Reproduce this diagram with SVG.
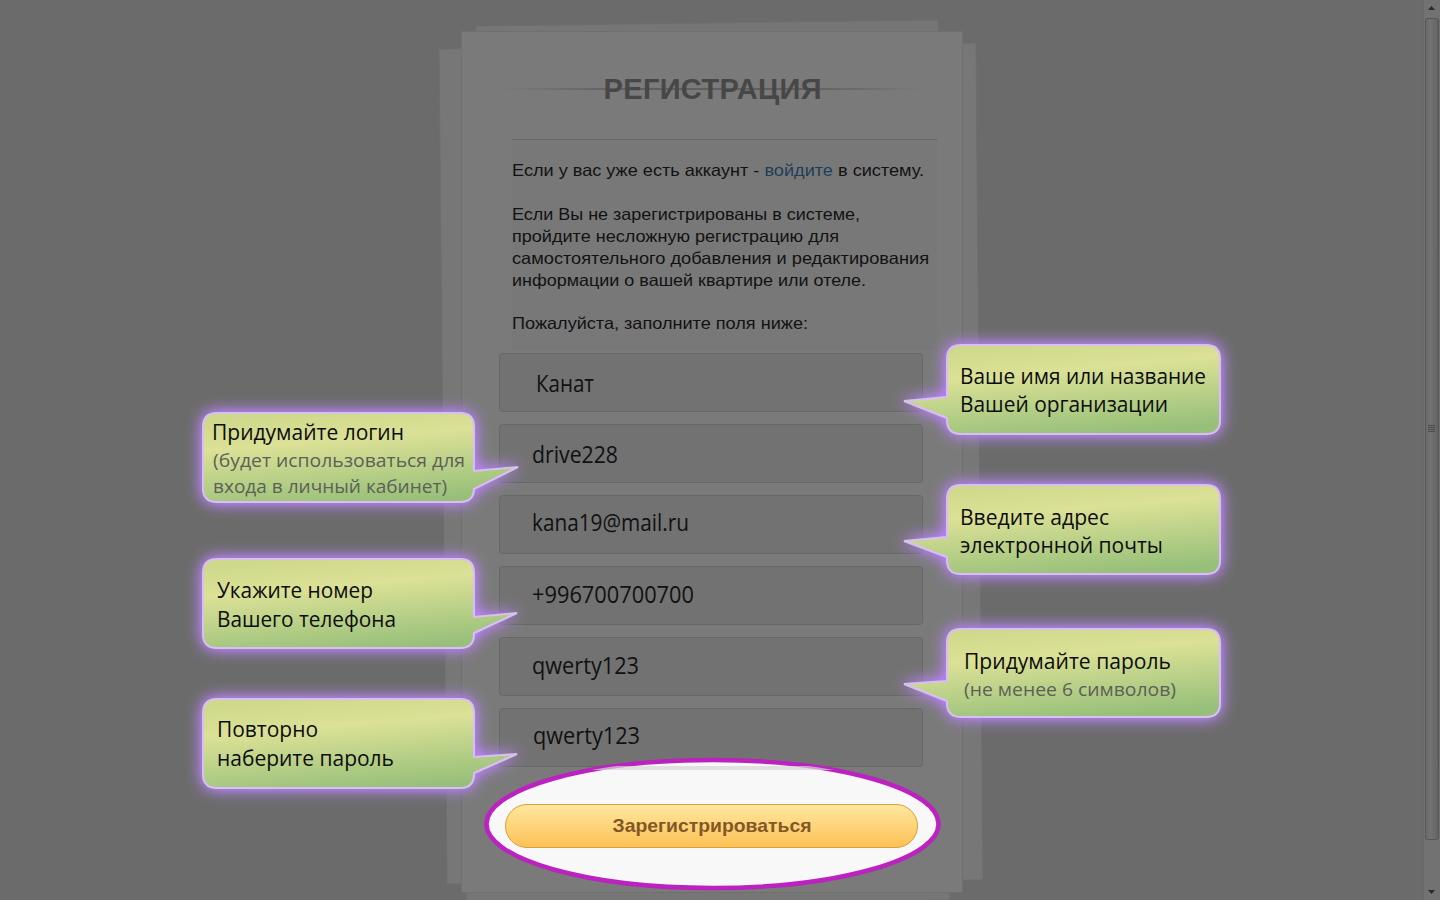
<svg xmlns="http://www.w3.org/2000/svg" width="1440" height="900" viewBox="0 0 1440 900">
<defs>
<style>
.body{font-family:"Liberation Sans",Arial,sans-serif;font-size:16.5px;fill:#121212}
.link{fill:#1d3e58}
.val{font-family:"Open Sans","Noto Sans",sans-serif;font-size:23px;fill:#111}
.ct{font-family:"Open Sans","Noto Sans",sans-serif;font-size:22px;fill:#0d0d0d}
.cs{font-family:"Open Sans","Noto Sans",sans-serif;font-size:19px;fill:#5d5f58}
.field{fill:#727272;stroke:#676767;stroke-width:1}
.bubble{fill:url(#gGreen);stroke:#d8bff2;stroke-width:2;filter:url(#glow)}
</style>
<linearGradient id="gGreen" x1="0.35" y1="0" x2="0.65" y2="1">
<stop offset="0" stop-color="#cfd98c"/>
<stop offset="0.3" stop-color="#dbe196"/>
<stop offset="1" stop-color="#96bf79"/>
</linearGradient>
<linearGradient id="gLine" x1="0" y1="0" x2="1" y2="0">
<stop offset="0" stop-color="#444" stop-opacity="0"/>
<stop offset="0.3" stop-color="#444"/>
<stop offset="0.7" stop-color="#444"/>
<stop offset="1" stop-color="#444" stop-opacity="0"/>
</linearGradient>
<linearGradient id="gBtn" x1="0" y1="0" x2="0" y2="1">
<stop offset="0" stop-color="#ffe8a0"/>
<stop offset="1" stop-color="#fcc155"/>
</linearGradient>
<linearGradient id="gThumb" x1="0" y1="0" x2="1" y2="0">
<stop offset="0" stop-color="#6a6a6a"/>
<stop offset="0.4" stop-color="#727272"/>
<stop offset="1" stop-color="#626262"/>
</linearGradient>
<filter id="glow" x="-20%" y="-40%" width="140%" height="180%">
<feGaussianBlur in="SourceAlpha" stdDeviation="8" result="b"/>
<feFlood flood-color="#b080e8"/>
<feComposite in2="b" operator="in" result="c"/>
<feComponentTransfer in="c" result="d"><feFuncA type="linear" slope="1.7"/></feComponentTransfer>
<feMerge><feMergeNode in="d"/><feMergeNode in="SourceGraphic"/></feMerge>
</filter>
<clipPath id="ellClip"><ellipse cx="712.5" cy="824" rx="226" ry="64"/></clipPath>
</defs>

<rect id="background" x="0" y="0" width="1440" height="900" fill="#6b6b6b"/>

<g id="sheets">
<polygon points="476,26 938,20 950,900 466,905" fill="#767676" stroke="#6e6e6e"/>
<polygon points="439,49 976,43 983,880 447,884" fill="#777777" stroke="#6e6e6e"/>
<rect x="461.5" y="31.5" width="501" height="861" fill="#7a7a7a" stroke="#707070"/>
</g>

<g id="title">
<rect x="503" y="88.5" width="420" height="1" fill="url(#gLine)"/>
<text x="712.5" y="99" text-anchor="middle" font-family="'Liberation Sans',Arial,sans-serif" font-weight="bold" font-size="29" fill="#474747" textLength="218">РЕГИСТРАЦИЯ</text>
</g>

<g id="info">
<rect x="512" y="139" width="425" height="211" fill="#787879"/>
<line x1="512" y1="139.5" x2="937" y2="139.5" stroke="#686868"/>
<text class="body" x="512" y="176" textLength="412" lengthAdjust="spacingAndGlyphs">Если у вас уже есть аккаунт - <tspan class="link">войдите</tspan> в систему.</text>
<text class="body" x="512" y="220" textLength="348" lengthAdjust="spacingAndGlyphs">Если Вы не зарегистрированы в системе,</text>
<text class="body" x="512" y="242" textLength="327" lengthAdjust="spacingAndGlyphs">пройдите несложную регистрацию для</text>
<text class="body" x="512" y="264" textLength="417" lengthAdjust="spacingAndGlyphs">самостоятельного добавления и редактирования</text>
<text class="body" x="512" y="286" textLength="354" lengthAdjust="spacingAndGlyphs">информации о вашей квартире или отеле.</text>
<text class="body" x="512" y="329" textLength="296" lengthAdjust="spacingAndGlyphs">Пожалуйста, заполните поля ниже:</text>
</g>

<g id="field-name"><rect class="field" x="499.5" y="353.5" width="423" height="58" rx="3"/><text class="val" x="536" y="392" textLength="58" lengthAdjust="spacingAndGlyphs">Канат</text></g>
<g id="field-login"><rect class="field" x="499.5" y="424.5" width="423" height="58" rx="3"/><text class="val" x="532" y="463" textLength="86" lengthAdjust="spacingAndGlyphs">drive228</text></g>
<g id="field-email"><rect class="field" x="499.5" y="495.5" width="423" height="58" rx="3"/><text class="val" x="532" y="531" textLength="157" lengthAdjust="spacingAndGlyphs">kana19@mail.ru</text></g>
<g id="field-phone"><rect class="field" x="499.5" y="566.5" width="423" height="58" rx="3"/><text class="val" x="532" y="603" textLength="162" lengthAdjust="spacingAndGlyphs">+996700700700</text></g>
<g id="field-password"><rect class="field" x="499.5" y="637.5" width="423" height="58" rx="3"/><text class="val" x="532" y="674" textLength="107" lengthAdjust="spacingAndGlyphs">qwerty123</text></g>
<g id="field-password2"><rect class="field" x="499.5" y="708.5" width="423" height="58" rx="3"/><text class="val" x="533" y="744" textLength="107" lengthAdjust="spacingAndGlyphs">qwerty123</text></g>

<g id="callout-name">
<path class="bubble" d="M961,345 H1206 Q1220,345 1220,359 V420 Q1220,434 1206,434 H961 Q947,434 947,420 V418 L904,401 L947,397 V359 Q947,345 961,345 Z"/>
<text class="ct" x="960" y="384" textLength="246" lengthAdjust="spacingAndGlyphs">Ваше имя или название</text>
<text class="ct" x="960" y="412" textLength="208" lengthAdjust="spacingAndGlyphs">Вашей организации</text>
</g>
<g id="callout-email">
<path class="bubble" d="M961,485 H1206 Q1220,485 1220,499 V560 Q1220,574 1206,574 H961 Q947,574 947,560 V557 L904,541 L947,537 V499 Q947,485 961,485 Z"/>
<text class="ct" x="960" y="525" textLength="149" lengthAdjust="spacingAndGlyphs">Введите адрес</text>
<text class="ct" x="960" y="553" textLength="203" lengthAdjust="spacingAndGlyphs">электронной почты</text>
</g>
<g id="callout-password">
<path class="bubble" d="M961,629 H1206 Q1220,629 1220,643 V703 Q1220,717 1206,717 H961 Q947,717 947,703 V701 L904,684 L947,681 V643 Q947,629 961,629 Z"/>
<text class="ct" x="964" y="669" textLength="207" lengthAdjust="spacingAndGlyphs">Придумайте пароль</text>
<text class="cs" x="964" y="696" textLength="212" lengthAdjust="spacingAndGlyphs">(не менее 6 символов)</text>
</g>
<g id="callout-login">
<path class="bubble" d="M217,413 H460 Q474,413 474,427 V471 L518,467 L474,489 V488 Q474,502 460,502 H217 Q203,502 203,488 V427 Q203,413 217,413 Z"/>
<text class="ct" x="212" y="440" textLength="192" lengthAdjust="spacingAndGlyphs">Придумайте логин</text>
<text class="cs" x="213" y="467" textLength="252" lengthAdjust="spacingAndGlyphs">(будет использоваться для</text>
<text class="cs" x="213" y="493" textLength="234" lengthAdjust="spacingAndGlyphs">входа в личный кабинет)</text>
</g>
<g id="callout-phone">
<path class="bubble" d="M217,559 H460 Q474,559 474,573 V617 L517,613 L474,633 V634 Q474,648 460,648 H217 Q203,648 203,634 V573 Q203,559 217,559 Z"/>
<text class="ct" x="217" y="598" textLength="156" lengthAdjust="spacingAndGlyphs">Укажите номер</text>
<text class="ct" x="217" y="627" textLength="179" lengthAdjust="spacingAndGlyphs">Вашего телефона</text>
</g>
<g id="callout-repeat">
<path class="bubble" d="M217,699 H460 Q474,699 474,713 V757 L517,754 L474,773 V774 Q474,788 460,788 H217 Q203,788 203,774 V713 Q203,699 217,699 Z"/>
<text class="ct" x="217" y="737" textLength="101" lengthAdjust="spacingAndGlyphs">Повторно</text>
<text class="ct" x="217" y="766" textLength="177" lengthAdjust="spacingAndGlyphs">наберите пароль</text>
</g>

<g id="button">
<ellipse cx="712.5" cy="824" rx="226" ry="64" fill="#f8f8f8" stroke="#bb22c0" stroke-width="4.5"/>
<g clip-path="url(#ellClip)"><rect x="500" y="766" width="424" height="4" fill="#d6d6d6" opacity="0.7"/></g>
<rect x="505.5" y="804.5" width="412" height="43" rx="21.5" fill="url(#gBtn)" stroke="#d9a035"/>
<text x="712" y="832" text-anchor="middle" font-family="'Liberation Sans',Arial,sans-serif" font-weight="bold" font-size="18.5" fill="#845726" textLength="199" lengthAdjust="spacingAndGlyphs">Зарегистрироваться</text>
</g>

<g id="scrollbar">
<rect x="1423" y="0" width="17" height="900" fill="#727272"/>
<line x1="1423.5" y1="0" x2="1423.5" y2="900" stroke="#686868"/>
<rect x="1425.5" y="18.5" width="13" height="821" rx="2" fill="url(#gThumb)" stroke="#565656"/>
<g stroke="#4a4a4a" stroke-width="1"><line x1="1428" y1="425.5" x2="1435" y2="425.5"/><line x1="1428" y1="427.5" x2="1435" y2="427.5"/><line x1="1428" y1="429.5" x2="1435" y2="429.5"/><line x1="1428" y1="431.5" x2="1435" y2="431.5"/></g>
<polygon points="1428,10 1435,10 1431.5,6" fill="#2a2a2a"/>
<polygon points="1428,890 1435,890 1431.5,894" fill="#2a2a2a"/>
</g>
</svg>
